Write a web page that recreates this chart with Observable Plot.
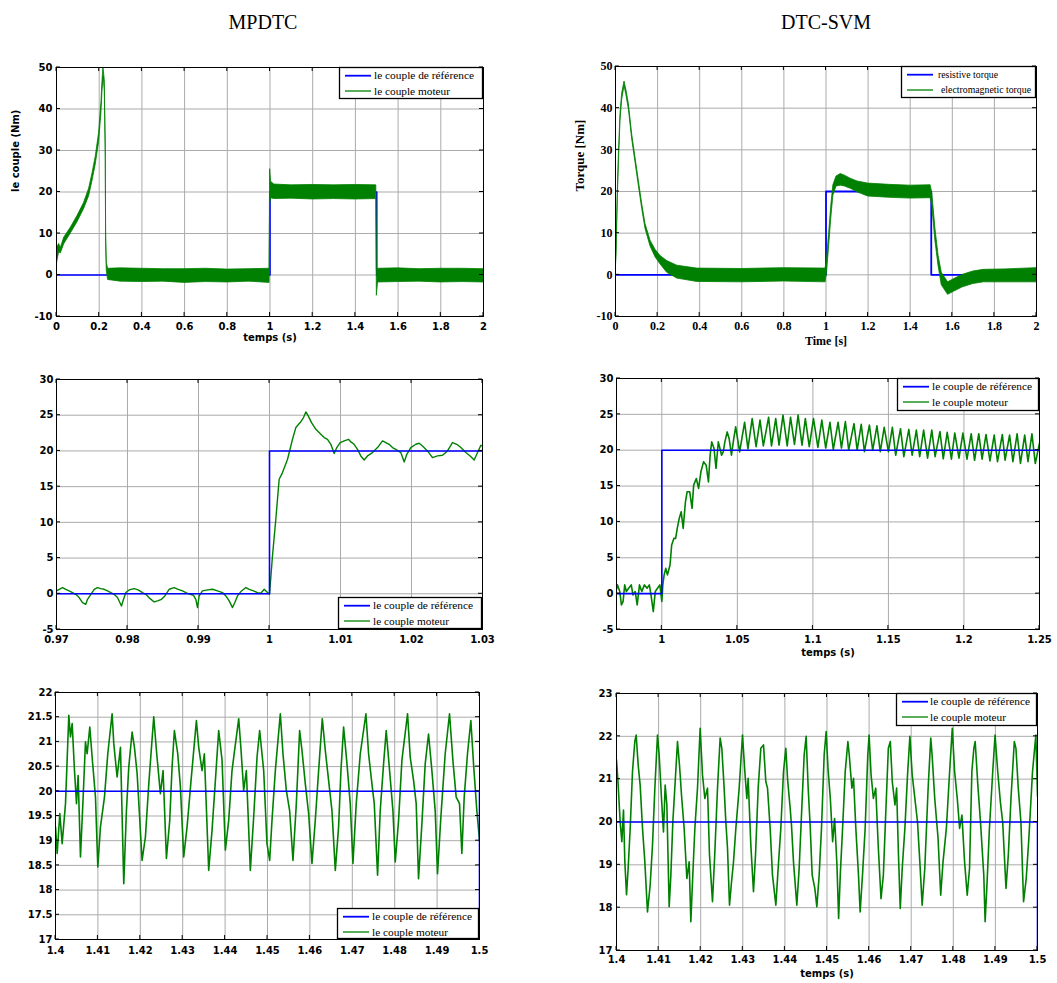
<!DOCTYPE html>
<html><head><meta charset="utf-8">
<script src="https://cdn.jsdelivr.net/npm/d3@7"></script>
<script src="https://cdn.jsdelivr.net/npm/@observablehq/plot@0.6"></script>
<style>
body{margin:0;background:#fff;}
#root{position:relative;width:1057px;height:983px;overflow:hidden;background:#fff;}
.title{position:absolute;top:12px;width:300px;text-align:center;font-family:"Liberation Serif","Times New Roman",serif;font-size:20px;line-height:20px;color:#000;}
</style></head><body><div id="root">
<div class="title" style="left:113px">MPDTC</div>
<div class="title" style="left:676px">DTC-SVM</div>
</div>
<script>
// ---------- tick labels ----------
const ticksX12 = [0,0.2,0.4,0.6,0.8,1,1.2,1.4,1.6,1.8,2];
const ticksY12 = [-10,0,10,20,30,40,50];
const ticksX3 = [0.97,0.98,0.99,1,1.01,1.02,1.03];
const ticksX4 = [1,1.05,1.1,1.15,1.2,1.25];
const ticksY34 = [-5,0,5,10,15,20,25,30];
const ticksX56 = [1.4,1.41,1.42,1.43,1.44,1.45,1.46,1.47,1.48,1.49,1.5];
const ticksY5 = [17,17.5,18,18.5,19,19.5,20,20.5,21,21.5,22];
const ticksY6 = [17,18,19,20,21,22,23];

// ---------- legend labels ----------
const legendFr = ["le couple de référence", "le couple moteur"];
const legendEn = ["resistive torque", "electromagnetic torque"];

// ---------- reference torque (time s, torque Nm) ----------
const ref12 = [[0,0],[1,0],[1,20],[1.5,20],[1.5,0],[2,0]];
const ref34 = [[0.97,0],[1,0],[1,20],[1.25,20]];
const ref56 = [[1.4,20],[1.5,20],[1.5,0]];

// ---------- MPDTC full run: band [time, low, high] ----------
const p1Band = [[0,0,0],[0.003,3,6.5],[0.0125,5.5,7.5],[0.0203,5.2,6.5],[0.0359,7.4,9],[0.067,10,11.4],[0.0982,12.7,14.2],[0.1294,15.9,17.4],[0.1528,19,20.8],[0.1684,22.6,24.4],[0.1839,26.6,28.5],[0.1995,32,34.2],[0.2104,39,41.5],[0.2151,44,46.5],[0.2198,47.5,50],[0.2229,46.5,48.5],[0.226,44.5,47],[0.2307,28.5,31],[0.2323,8,10.5],[0.2354,1,3],[0.2416,-1.2,1.5],[0.3,-1.6,1.6],[0.4,-1.7,1.5],[0.5,-1.6,1.4],[0.6,-1.9,1.4],[0.7,-1.7,1.5],[0.8,-1.8,1.3],[0.9,-1.6,1.4],[0.998,-1.9,1.5],[1.0005,17,25.5],[1.005,18.5,22.5],[1.02,18.3,21.8],[1.1,18.4,21.6],[1.2,18.2,21.7],[1.3,18.3,21.6],[1.4,18.2,21.7],[1.498,18.3,21.6],[1.5005,-5,1.2],[1.506,-1.8,1.5],[1.6,-1.7,1.6],[1.7,-1.6,1.4],[1.8,-1.8,1.5],[1.9,-1.7,1.5],[2,-1.8,1.4]];

// ---------- DTC-SVM full run: band [time, low, high] ----------
const p2Band = [[0,0,0],[0.0048,4.5,6.5],[0.0111,18.5,20.5],[0.0158,26.3,28.3],[0.0238,37,38.8],[0.0317,42,43.5],[0.0428,45.3,46.4],[0.0523,43,44.2],[0.0634,39.7,41.0],[0.0792,32.5,33.7],[0.0951,26.9,28.1],[0.1109,21.3,22.5],[0.1268,15.8,17.0],[0.1426,11.0,12.2],[0.1664,6.8,8.2],[0.1902,4.2,6.0],[0.2139,2.5,4.5],[0.2456,0.5,3.3],[0.2932,-0.9,2.2],[0.3883,-1.7,1.5],[0.6,-1.8,1.4],[0.8,-1.6,1.6],[0.998,-1.8,1.5],[1.005,0.5,4],[1.015,7,10],[1.025,13.5,16.5],[1.035,19,21.5],[1.05,21.2,23.6],[1.07,21.4,24.2],[1.09,21.2,23.8],[1.12,20.6,23],[1.15,19.8,22.4],[1.2,18.8,21.9],[1.3,18.5,21.6],[1.4,18.3,21.4],[1.497,18.4,21.5],[1.505,16.5,19.5],[1.52,8,11],[1.535,2,4.5],[1.55,-2.5,0.5],[1.58,-4.8,-1.8],[1.61,-4,-1],[1.65,-3,0],[1.7,-2.2,0.8],[1.75,-1.8,1.2],[1.85,-1.8,1.3],[2,-1.8,1.6]];

// ---------- MPDTC zoom on step [time, torque] ----------
const p3Curve = [[0.97,0.4],[0.97038,0.63],[0.97085,0.87],[0.97131,0.63],[0.97178,0.4],[0.97225,0.17],[0.97272,-0.07],[0.97319,-0.53],[0.97366,-1.23],[0.97413,-1.47],[0.97437,-0.77],[0.97484,-0.07],[0.97531,0.63],[0.97577,0.87],[0.97624,0.72],[0.97671,0.63],[0.97718,0.4],[0.97765,0.17],[0.97812,-0.07],[0.97859,-0.53],[0.97915,-1.7],[0.97944,-0.77],[0.97977,0.17],[0.98023,0.54],[0.98094,0.72],[0.9815,0.54],[0.98211,0.17],[0.98258,-0.07],[0.98319,-0.68],[0.98376,-1.14],[0.98423,-1.0],[0.98479,-0.77],[0.98526,-0.3],[0.98587,0.63],[0.98657,0.87],[0.98714,0.63],[0.98775,0.4],[0.98822,0.17],[0.98883,-0.07],[0.9893,-0.21],[0.98962,-0.77],[0.98986,-1.93],[0.99009,-0.3],[0.99056,0.4],[0.99127,0.54],[0.99197,0.63],[0.99268,0.4],[0.99338,0.17],[0.99385,-0.3],[0.99432,-1.0],[0.99479,-1.93],[0.99512,-1.23],[0.99549,-0.3],[0.99606,0.4],[0.99667,0.87],[0.99714,0.63],[0.99775,0.4],[0.99831,0.17],[0.99878,0.07],[0.99925,0.63],[0.99972,0.17],[1.0,-0.07],[1.00042,5.3],[1.00089,10.43],[1.00136,16.03],[1.00183,16.97],[1.00254,18.83],[1.00324,21.63],[1.00371,23.27],[1.00432,23.97],[1.00479,24.67],[1.00512,25.46],[1.00545,24.9],[1.00592,23.97],[1.00653,23.03],[1.00723,22.33],[1.0077,21.87],[1.00817,21.63],[1.00864,20.93],[1.00911,19.63],[1.00948,20.47],[1.00995,21.17],[1.01052,21.4],[1.01113,21.63],[1.01146,21.26],[1.01192,20.93],[1.01239,20.23],[1.01286,19.3],[1.01333,18.74],[1.0138,19.3],[1.01451,19.77],[1.01521,20.47],[1.01592,21.4],[1.01638,21.17],[1.01685,20.93],[1.01732,20.47],[1.01779,20.23],[1.0185,19.77],[1.01897,18.46],[1.01934,19.53],[1.0199,20.47],[1.02061,20.93],[1.02108,21.07],[1.02155,20.7],[1.02225,20.0],[1.02296,19.07],[1.02366,19.3],[1.02437,19.4],[1.02507,20.0],[1.02577,21.17],[1.02638,20.93],[1.02695,20.47],[1.02765,19.77],[1.02826,19.3],[1.02883,18.74],[1.0293,19.77],[1.02977,20.79],[1.03,20.7]];

// ---------- DTC-SVM zoom on step [time, torque] ----------
const p4Curve = [[0.97,0.6],[0.97065,1.22],[0.97217,0.29],[0.97326,-1.57],[0.97435,-1.1],[0.97543,1.22],[0.97652,0.29],[0.97804,0.75],[0.97978,1.22],[0.98087,-0.18],[0.98239,0.29],[0.9837,-1.57],[0.98522,1.22],[0.98674,0.29],[0.98848,1.22],[0.99022,0.75],[0.99174,1.22],[0.99283,-0.18],[0.99435,-2.5],[0.99565,0.29],[0.99717,0.75],[0.9987,1.22],[1.0,-1.1],[1.00065,1.22],[1.00152,2.61],[1.00261,3.53],[1.0037,2.61],[1.00543,4.0],[1.00652,6.78],[1.00804,7.71],[1.00913,7.71],[1.01022,9.1],[1.01152,10.49],[1.01283,11.42],[1.01413,9.1],[1.01565,12.81],[1.01674,14.2],[1.01848,14.2],[1.02,11.88],[1.02109,15.13],[1.02283,16.06],[1.02435,14.67],[1.02587,16.99],[1.02761,18.38],[1.02935,17.91],[1.03087,15.59],[1.03196,19.3],[1.03304,21.16],[1.03457,20.23],[1.03587,17.45],[1.03739,21.16],[1.03848,20.23],[1.03957,19.3],[1.04065,19.77],[1.04174,21.16],[1.04326,22.55],[1.04457,21.62],[1.04609,19.3],[1.04761,21.62],[1.0489,23.25],[1.0515,19.77],[1.0548,23.9],[1.057,20.2],[1.0598,24.4],[1.0624,20.5],[1.065,24.2],[1.0672,20.6],[1.0707,24.6],[1.0726,20.6],[1.0754,24.4],[1.0776,20.7],[1.0802,24.9],[1.083,20.6],[1.0852,24.6],[1.0878,20.8],[1.0902,24.9],[1.0928,20.7],[1.095,24.4],[1.0976,20.5],[1.1004,24.4],[1.1033,20.4],[1.1059,24.2],[1.1085,20.3],[1.1113,23.9],[1.1135,20.1],[1.1167,23.9],[1.1189,20.3],[1.1215,24.0],[1.1237,20.0],[1.1272,23.7],[1.1293,20.0],[1.132,23.6],[1.1341,19.8],[1.1374,23.5],[1.1396,20.0],[1.1424,23.4],[1.1446,19.8],[1.1472,23.2],[1.15,19.8],[1.1526,23.2],[1.1548,19.3],[1.158,23.0],[1.1602,19.1],[1.1635,22.9],[1.1657,19.3],[1.1685,22.8],[1.1707,19.1],[1.1733,22.8],[1.1759,18.9],[1.1787,22.8],[1.1809,19.1],[1.1841,22.6],[1.1863,18.8],[1.1889,22.5],[1.1917,18.75],[1.1939,22.4],[1.1967,18.9],[1.1993,22.4],[1.202,18.75],[1.2048,22.3],[1.207,18.6],[1.2098,22.3],[1.212,18.75],[1.2146,22.2],[1.2172,18.5],[1.22,22.1],[1.2222,18.4],[1.2254,22.2],[1.2272,18.6],[1.2302,22.1],[1.2324,18.4],[1.2352,22.3],[1.2374,18.15],[1.2402,22.1],[1.2424,18.4],[1.245,22.3],[1.2472,18.15],[1.25,21.0]];

// ---------- MPDTC steady state [time, torque] ----------
const p5Curve = [[1.4,19.28],[1.40039,18.74],[1.40102,19.55],[1.40157,18.94],[1.40236,19.75],[1.40314,21.54],[1.40353,21.1],[1.40393,21.37],[1.40448,20.42],[1.40495,19.75],[1.40534,20.32],[1.40589,18.67],[1.40652,19.88],[1.40707,21.0],[1.40746,20.76],[1.40809,21.3],[1.40864,20.69],[1.40943,19.88],[1.40998,18.47],[1.4106,19.28],[1.41155,19.88],[1.41233,20.76],[1.41335,21.57],[1.41375,20.96],[1.41453,20.29],[1.41532,20.89],[1.4161,18.13],[1.41673,19.61],[1.41728,20.49],[1.41807,21.2],[1.41862,20.89],[1.41925,20.36],[1.42042,18.6],[1.42121,19.08],[1.422,20.15],[1.42317,21.51],[1.4238,20.83],[1.42474,19.95],[1.42537,20.42],[1.42616,18.64],[1.42694,19.41],[1.42749,20.49],[1.42804,21.23],[1.42883,20.76],[1.42946,20.09],[1.43024,18.67],[1.43103,19.28],[1.43197,20.22],[1.43323,21.43],[1.43378,20.89],[1.43456,20.42],[1.43511,20.76],[1.43613,18.4],[1.43692,19.21],[1.43771,20.22],[1.43849,21.23],[1.43928,20.63],[1.44006,18.81],[1.44085,19.41],[1.44163,20.42],[1.44321,21.47],[1.44376,20.83],[1.44438,20.02],[1.44501,20.42],[1.44595,18.4],[1.44674,19.48],[1.44753,20.69],[1.44815,21.23],[1.4491,20.42],[1.44988,18.94],[1.45051,18.6],[1.45106,19.41],[1.45185,20.42],[1.45302,21.57],[1.45365,20.76],[1.45444,20.02],[1.45522,19.61],[1.45601,18.6],[1.4568,19.75],[1.45758,21.23],[1.45813,20.83],[1.45892,20.15],[1.4597,19.55],[1.46049,18.54],[1.46127,19.41],[1.46206,20.42],[1.46292,21.47],[1.46363,20.83],[1.46441,20.22],[1.4652,19.61],[1.46599,18.4],[1.46677,19.28],[1.46732,20.42],[1.46795,21.3],[1.46874,20.56],[1.46952,19.75],[1.47015,18.54],[1.47093,19.75],[1.47188,20.76],[1.47321,21.57],[1.47384,20.76],[1.47463,20.15],[1.47518,19.75],[1.47596,18.3],[1.47659,19.61],[1.47738,20.56],[1.478,21.23],[1.47879,20.42],[1.47958,19.61],[1.48013,18.57],[1.48091,19.41],[1.4817,20.63],[1.48303,21.57],[1.48366,20.69],[1.48445,20.22],[1.48507,19.75],[1.48562,18.23],[1.48641,19.34],[1.4872,20.56],[1.48798,21.16],[1.48877,20.42],[1.48955,19.61],[1.4901,18.33],[1.49089,19.48],[1.49191,20.76],[1.49293,21.57],[1.49372,20.63],[1.4945,19.88],[1.49529,19.75],[1.49584,18.74],[1.49639,19.88],[1.49717,20.76],[1.49796,21.43],[1.49859,20.56],[1.49937,19.61],[1.5,19.01]];

// ---------- DTC-SVM steady state [time, torque] ----------
const p6Curve = [[1.4,21.45],[1.4004,20.86],[1.40087,20.0],[1.40127,19.54],[1.40166,20.28],[1.40198,19.07],[1.40238,18.3],[1.40277,18.92],[1.40325,19.85],[1.4038,21.18],[1.40435,21.88],[1.40467,22.03],[1.40515,21.33],[1.40562,20.86],[1.40618,19.85],[1.40673,19.07],[1.40736,17.9],[1.408,18.53],[1.40855,19.46],[1.40911,20.79],[1.40974,22.03],[1.41013,21.57],[1.41069,20.55],[1.41116,19.77],[1.41156,20.86],[1.41196,20.4],[1.41251,18.02],[1.41291,18.76],[1.41338,20.0],[1.41394,20.94],[1.41449,21.88],[1.41496,21.33],[1.41544,20.63],[1.41607,19.85],[1.41671,18.68],[1.41726,19.07],[1.41766,17.67],[1.41805,18.6],[1.41861,19.85],[1.41924,20.79],[1.41987,22.19],[1.42043,21.1],[1.42098,20.55],[1.42162,20.79],[1.42209,19.23],[1.4228,18.14],[1.42336,19.3],[1.42399,20.79],[1.42462,21.96],[1.42502,21.72],[1.42557,20.79],[1.42597,20.0],[1.42637,19.38],[1.42684,18.06],[1.42732,18.6],[1.42779,19.07],[1.42835,19.85],[1.42914,20.79],[1.42993,22.03],[1.43048,21.18],[1.43096,20.55],[1.43127,21.02],[1.43191,19.46],[1.43254,18.37],[1.43302,19.23],[1.43365,20.79],[1.43428,21.72],[1.43492,21.8],[1.43547,20.94],[1.43587,20.79],[1.4365,19.85],[1.43705,18.76],[1.43785,18.06],[1.4384,18.92],[1.43903,19.85],[1.43967,21.18],[1.44022,21.72],[1.44062,21.02],[1.44125,20.32],[1.44157,19.92],[1.44204,19.07],[1.44283,18.06],[1.44339,18.92],[1.44394,20.16],[1.44458,21.57],[1.44505,22.0],[1.44553,20.79],[1.446,19.92],[1.44648,18.76],[1.44711,18.45],[1.44759,18.02],[1.44814,18.76],[1.44869,19.85],[1.44933,21.57],[1.4498,22.11],[1.45024,21.25],[1.45079,20.55],[1.45134,19.54],[1.45181,20.08],[1.45236,19.0],[1.45276,17.75],[1.45315,18.76],[1.4537,19.85],[1.45433,21.18],[1.45496,21.88],[1.45528,21.57],[1.45591,20.79],[1.4563,21.02],[1.45685,19.85],[1.45748,18.76],[1.45787,17.9],[1.45843,18.76],[1.45906,19.85],[1.45969,21.57],[1.46,22.03],[1.46047,21.1],[1.46102,20.55],[1.46157,20.79],[1.4622,19.38],[1.46283,18.21],[1.46339,18.76],[1.46394,20.16],[1.46457,21.72],[1.46504,21.88],[1.46551,20.94],[1.46614,20.4],[1.46654,20.79],[1.46693,19.38],[1.4674,17.98],[1.46787,18.92],[1.4685,19.85],[1.46913,21.1],[1.46969,22.0],[1.47024,21.1],[1.47087,20.55],[1.4715,20.0],[1.47205,19.07],[1.4726,18.06],[1.47323,18.92],[1.47402,20.79],[1.47465,21.96],[1.47496,21.57],[1.47559,20.55],[1.47638,19.62],[1.47701,18.29],[1.47756,19.07],[1.47835,19.85],[1.47913,21.18],[1.47976,22.19],[1.48031,21.18],[1.48094,20.55],[1.4815,19.85],[1.48205,20.16],[1.48268,19.07],[1.48331,18.29],[1.48386,18.92],[1.48441,21.18],[1.48488,21.72],[1.4852,21.88],[1.48583,20.86],[1.48646,20.0],[1.48724,18.76],[1.48756,17.67],[1.48803,18.6],[1.48858,19.85],[1.48937,21.18],[1.48992,22.03],[1.49055,21.18],[1.49118,20.47],[1.49173,20.0],[1.49252,18.45],[1.49307,19.23],[1.4937,20.55],[1.49449,21.88],[1.49488,21.72],[1.49543,20.79],[1.49606,20.0],[1.49669,18.14],[1.49732,18.68],[1.49795,19.62],[1.49882,21.18],[1.49961,22.03],[1.5,20.6]];

// ---------- styling ----------
const GREEN = "#008000", BLUE = "#0000ff", GRID = "#ababab";
const SANS = '"DejaVu Sans", Verdana, sans-serif';
const SERIF = '"Liberation Serif", "Times New Roman", serif';
const fmt = d => String(Math.round(d * 10000) / 10000);
const root = document.getElementById("root");

function innerTicks(xT, yT, len = 4) {
  return (index, scales, values, dim) => {
    const x0 = dim.marginLeft, x1 = dim.width - dim.marginRight;
    const y0 = dim.marginTop, y1 = dim.height - dim.marginBottom;
    const g = d3.create("svg:g").attr("stroke", "#000").attr("stroke-width", 1);
    for (const t of xT) {
      const x = scales.x(t);
      g.append("line").attr("x1", x).attr("x2", x).attr("y1", y1).attr("y2", y1 - len);
      g.append("line").attr("x1", x).attr("x2", x).attr("y1", y0).attr("y2", y0 + len);
    }
    for (const t of yT) {
      const y = scales.y(t);
      g.append("line").attr("y1", y).attr("y2", y).attr("x1", x0).attr("x2", x0 + len);
      g.append("line").attr("y1", y).attr("y2", y).attr("x1", x1).attr("x2", x1 - len);
    }
    return g.node();
  };
}

function legendMark(lg) {
  return (index, scales, values, dim) => {
    const x1 = dim.width - dim.marginRight;
    const y0 = dim.marginTop, y1 = dim.height - dim.marginBottom;
    const bx = x1 - lg.w, by = lg.pos === "top" ? y0 : y1 - lg.h;
    const g = d3.create("svg:g");
    g.append("rect").attr("x", bx + 0.5).attr("y", by + 0.5).attr("width", lg.w - 1).attr("height", lg.h - 1)
      .attr("fill", "#fff").attr("stroke", "#000").attr("stroke-width", 1.3);
    const rows = [8.7, 24];
    const cols = [BLUE, GREEN];
    const widths = [1.8, 1.3];
    lg.labels.forEach((lab, i) => {
      const y = by + rows[i];
      g.append("line").attr("x1", bx + 6).attr("x2", bx + 32).attr("y1", y).attr("y2", y)
        .attr("stroke", cols[i]).attr("stroke-width", widths[i]);
      g.append("text").attr("x", bx + lg.tx[i]).attr("y", y).attr("dy", "0.33em")
        .attr("text-anchor", "start")
        .attr("textLength", lg.len[i]).attr("lengthAdjust", "spacingAndGlyphs")
        .style("font-family", SERIF).style("font-size", lg.size + "px").style("font-weight", "normal")
        .attr("fill", "#000").text(lab);
    });
    return g.node();
  };
}

function panel(c) {
  const marks = [
    Plot.gridX(c.xT, {stroke: GRID, strokeOpacity: 1, strokeWidth: 1}),
    Plot.gridY(c.yT, {stroke: GRID, strokeOpacity: 1, strokeWidth: 1}),
    ...c.marks,
    Plot.frame({stroke: "#000", strokeWidth: 1}),
    innerTicks(c.xT, c.yT),
    Plot.axisX(c.xT, {tickSize: 0, tickPadding: c.padX, tickFormat: fmt, label: null,
      fontFamily: c.font, fontSize: c.size, fontWeight: "bold"}),
    Plot.axisY(c.yT, {tickSize: 0, tickPadding: c.padY, tickFormat: fmt, label: null,
      fontFamily: c.font, fontSize: c.size, fontWeight: "bold"}),
    legendMark(c.legend)
  ];
  if (c.xLabel) marks.push(Plot.text([c.xLabel.text], {text: d => d, frameAnchor: "bottom", dy: c.xLabel.dy,
    lineAnchor: "middle", fontFamily: c.xLabel.font, fontSize: c.xLabel.size, fontWeight: "bold", fill: "#000"}));
  if (c.yLabel) marks.push(Plot.text([c.yLabel.text], {text: d => d, frameAnchor: "left", dx: c.yLabel.dx,
    rotate: -90, lineAnchor: "middle", fontFamily: c.yLabel.font, fontSize: c.yLabel.size, fontWeight: "bold", fill: "#000"}));
  const svg = Plot.plot({
    width: c.w, height: c.h,
    marginLeft: c.ml, marginRight: c.mr, marginTop: c.mt, marginBottom: c.mb,
    x: {domain: c.xD}, y: {domain: c.yD},
    style: {fontFamily: c.font, fontSize: c.size + "px", fontWeight: "bold", color: "#000", background: "transparent"},
    marks
  });
  svg.style.position = "absolute";
  svg.style.left = c.left + "px";
  svg.style.top = c.top + "px";
  root.appendChild(svg);
}

const bandMark = data => Plot.areaY(data, {x: d => d[0], y1: d => d[1], y2: d => d[2],
  fill: GREEN, stroke: GREEN, strokeWidth: 0.8, clip: true});
const lineMark = (data, color, sw) => Plot.line(data, {x: d => d[0], y: d => d[1],
  stroke: color, strokeWidth: sw, clip: true});

const frLegend = pos => ({pos, w: 144, h: 32, size: 11, labels: legendFr, tx: [35, 35], len: [100, 76]});

// Panel 1: MPDTC full
panel({left: 0, top: 50, w: 520, h: 300, ml: 56, mr: 37, mt: 17, mb: 34,
  xD: [0, 2], yD: [-10, 50], xT: ticksX12, yT: ticksY12, font: SANS, size: 10, padX: 6, padY: 4,
  marks: [lineMark(ref12, BLUE, 1.6), bandMark(p1Band)],
  legend: frLegend("top"),
  xLabel: {text: "temps (s)", dy: 21, font: SANS, size: 10},
  yLabel: {text: "le couple (Nm)", dx: -41, font: SANS, size: 10}});

// Panel 2: DTC-SVM full
panel({left: 530, top: 50, w: 527, h: 300, ml: 85, mr: 21, mt: 16, mb: 34,
  xD: [0, 2], yD: [-10, 50], xT: ticksX12, yT: ticksY12, font: SERIF, size: 12, padX: 5, padY: 3,
  marks: [lineMark(ref12, BLUE, 1.8), bandMark(p2Band)],
  legend: {pos: "top", w: 135, h: 32, size: 10, labels: legendEn, tx: [37, 40], len: [60, 90]},
  xLabel: {text: "Time [s]", dy: 25, font: SERIF, size: 12},
  yLabel: {text: "Torque [Nm]", dx: -36, font: SERIF, size: 13}});

// Panel 3: MPDTC step zoom
panel({left: 0, top: 360, w: 520, h: 300, ml: 56, mr: 38, mt: 19, mb: 31,
  xD: [0.97, 1.03], yD: [-5, 30], xT: ticksX3, yT: ticksY34, font: SANS, size: 10, padX: 6, padY: 3,
  marks: [lineMark(p3Curve, GREEN, 1.4), lineMark(ref34, BLUE, 1.6)],
  legend: frLegend("bottom")});

// Panel 4: DTC-SVM step zoom
panel({left: 530, top: 360, w: 527, h: 300, ml: 86, mr: 18, mt: 18, mb: 31,
  xD: [0.97, 1.25], yD: [-5, 30], xT: ticksX4, yT: ticksY34, font: SANS, size: 10, padX: 6, padY: 3,
  marks: [lineMark(p4Curve, GREEN, 1.6), lineMark(ref34, BLUE, 1.6)],
  legend: {...frLegend("top"), w: 142, h: 33},
  xLabel: {text: "temps (s)", dy: 23, font: SANS, size: 10}});

// Panel 5: MPDTC steady-state
panel({left: 0, top: 670, w: 520, h: 313, ml: 55, mr: 41, mt: 22, mb: 44,
  xD: [1.4, 1.5], yD: [17, 22], xT: ticksX56, yT: ticksY5, font: SANS, size: 10, padX: 7, padY: 3,
  marks: [lineMark(p5Curve, GREEN, 1.6), lineMark(ref56, BLUE, 1.6)],
  legend: {...frLegend("bottom"), w: 142, h: 31}});

// Panel 6: DTC-SVM steady-state
panel({left: 530, top: 670, w: 527, h: 313, ml: 86, mr: 20, mt: 23, mb: 33,
  xD: [1.4, 1.5], yD: [17, 23], xT: ticksX56, yT: ticksY6, font: SANS, size: 10, padX: 5, padY: 4,
  marks: [lineMark(p6Curve, GREEN, 1.6), lineMark(ref56, BLUE, 1.6)],
  legend: {...frLegend("top"), w: 141, h: 33, tx: [34, 34]},
  xLabel: {text: "temps (s)", dy: 23, font: SANS, size: 10}});
</script>
</body></html>
